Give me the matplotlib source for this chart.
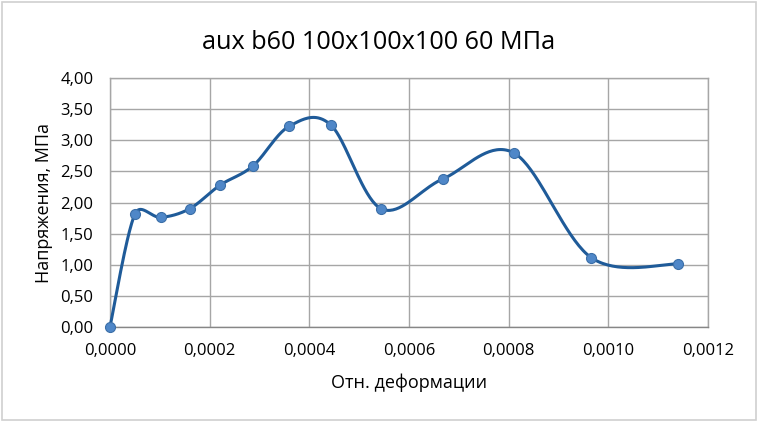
import numpy as np
import matplotlib.pyplot as plt
from matplotlib.patches import Rectangle

# --- данные ---
strain = [0.0, 0.0000504, 0.000102, 0.00016, 0.000221, 0.000287,
          0.00036, 0.000443, 0.000544, 0.000668, 0.00081, 0.000966, 0.001139]
stress = [0.0, 1.82, 1.76, 1.90, 2.28, 2.59,
          3.23, 3.25, 1.90, 2.38, 2.80, 1.11, 1.01]

x_ticks = [0.0, 0.0002, 0.0004, 0.0006, 0.0008, 0.0010, 0.0012]
y_ticks = [0.0, 0.5, 1.0, 1.5, 2.0, 2.5, 3.0, 3.5, 4.0]

title = "aux b60 100x100x100 60 МПа"
x_label = "Отн. деформации"
y_label = "Напряжения, МПа"

plt.rcParams['font.family'] = ['Open Sans', 'DejaVu Sans']


# --- сглаживание как в Excel (Bezier, плечо <= половины отрезка) ---
def smooth(xs, ys, sx=1.0, sy=1.0, n=40):
    p = np.column_stack([np.array(xs) * sx, np.array(ys) * sy])
    out = [p[0]]
    t = np.linspace(0, 1, n)[1:, None]
    for i in range(len(p) - 1):
        p0 = p[i - 1] if i > 0 else p[i]
        p3 = p[i + 2] if i + 2 < len(p) else p[i + 1]
        seg_len = np.linalg.norm(p[i + 1] - p[i])
        v1 = (p[i + 1] - p0) / 6
        v2 = (p3 - p[i]) / 6
        for v in (v1, v2):
            L = np.linalg.norm(v)
            if L > seg_len / 2:
                v *= (seg_len / 2) / L
        c1 = p[i] + v1
        c2 = p[i + 1] - v2
        seg = ((1 - t) ** 3) * p[i] + 3 * ((1 - t) ** 2) * t * c1 \
            + 3 * (1 - t) * t ** 2 * c2 + t ** 3 * p[i + 1]
        out.extend(seg)
    out = np.array(out)
    return out[:, 0] / sx, out[:, 1] / sy


fig = plt.figure(figsize=(7.58, 4.21), dpi=100)
ax = fig.add_axes([0.1451, 0.224, 0.789, 0.590])

ax.set_xlim(0, 0.0012)
ax.set_ylim(0, 4.0)

# масштаб в пикселях для сглаживания
px_x = 0.789 * 758 / 0.0012
px_y = 0.590 * 421 / 4.0
cx, cy = smooth(strain, stress, px_x, px_y)
ax.plot(cx, cy, color='#1F5B99', lw=2.2, zorder=3, clip_on=False)
ax.plot(strain, stress, ls='none', marker='o', ms=7.2,
        mfc='#4F87C8', mec='#3B6FA8', mew=0.8, zorder=4, clip_on=False)

ax.set_xticks(x_ticks)
ax.set_yticks(y_ticks)
ax.set_xticklabels([f"{v:.4f}".replace('.', ',') for v in x_ticks])
ax.set_yticklabels([f"{v:.2f}".replace('.', ',') for v in y_ticks])
ax.tick_params(length=0, labelsize=12, colors='#000000')
ax.tick_params(axis='x', pad=12)
ax.tick_params(axis='y', pad=12)

ax.grid(True, color='#A6A6A6', lw=1.0)
ax.set_axisbelow(True)
for side in ['top', 'right', 'left']:
    ax.spines[side].set_color('#A6A6A6')
    ax.spines[side].set_linewidth(1.0)
ax.spines['bottom'].set_color('#868686')
ax.spines['bottom'].set_linewidth(1.0)

ax.set_xlabel(x_label, fontsize=13, labelpad=10)
ax.set_ylabel(y_label, fontsize=13, labelpad=5)
fig.text(0.5, 0.9, title, ha='center', va='center', fontsize=18.2)

fig.patches.append(Rectangle((0.002, 0.003), 0.995, 0.993, transform=fig.transFigure,
                             fill=False, ec='#D0D0D0', lw=1.2))

fig.savefig('out.png', dpi=100)
